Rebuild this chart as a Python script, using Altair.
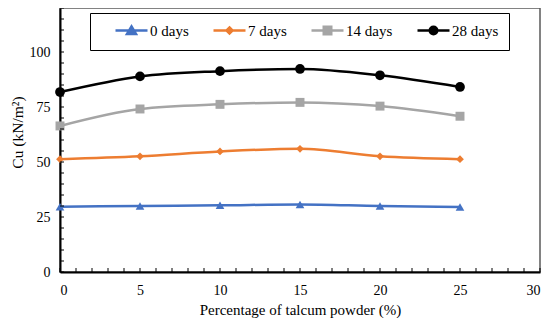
import altair as alt
import pandas as pd

# ---- data ----
pct = [0, 5, 10, 15, 20, 25]
series = ["0 days", "7 days", "14 days", "28 days"]
cu_0 = [29.7, 30.0, 30.3, 30.7, 30.0, 29.6]
cu_7 = [51.3, 52.6, 54.8, 56.0, 52.6, 51.3]
cu_14 = [66.4, 74.1, 76.2, 77.1, 75.4, 70.8]
cu_28 = [81.8, 88.9, 91.3, 92.3, 89.4, 84.1]

colors = ["#4472C4", "#ED7D31", "#A5A5A5", "#000000"]
markers = ["triangle-up", "diamond", "square", "circle"]
marker_sizes = [75, 60, 80, 95]
# legend symbols: a line segment with a (stroke-filled) marker on it
legend_paths = [
    "M-3.2,0H3.2M0,-0.8L0.9,0.7L-0.9,0.7ZM0,-0.2L0.36,0.4L-0.36,0.4ZM-0.1,0.25H0.1",
    "M-3.2,0H3.2M0,-0.6L0.6,0L0,0.6L-0.6,0ZM0,-0.1L0.1,0L0,0.1L-0.1,0Z",
    "M-3.2,0H3.2M-0.75,-0.75H0.75V0.75H-0.75ZM-0.6,-0.25H0.6M-0.6,0.25H0.6",
    "M-3.2,0H3.2M-0.75,0A0.75,0.75 0 1,0 0.75,0A0.75,0.75 0 1,0 -0.75,0ZM-0.3,0A0.3,0.3 0 1,0 0.3,0A0.3,0.3 0 1,0 -0.3,0Z",
]
x_labels = [0, 5, 10, 15, 20, 25, 30]
y_labels = [0, 25, 50, 75, 100]
x_ticks = list(range(0, 31))
y_ticks = list(range(0, 121, 5))

rows = []
for s, vals, c, m, sz in zip(series, [cu_0, cu_7, cu_14, cu_28], colors, markers, marker_sizes):
    for p, v in zip(pct, vals):
        rows.append(dict(pct=p, cu=v, series=s, hex=c, marker=m, msize=sz))
df = pd.DataFrame(rows)
xt = pd.DataFrame({"t": x_ticks})
yt = pd.DataFrame({"t": y_ticks})

W, H = 480, 264
FONT = "Liberation Serif"

xs = alt.Scale(domain=[0, 30], nice=False)
ys = alt.Scale(domain=[0, 120], nice=False)

x_axis = alt.Axis(values=x_labels, title="Percentage of talcum powder (%)", ticks=False, grid=False,
                  labelPadding=11, titlePadding=5, domainColor="black", domainWidth=2)
y_axis = alt.Axis(values=y_labels, title="Cu (kN/m²)", ticks=False, grid=False,
                  labelPadding=10, titlePadding=3, domainColor="black", domainWidth=2,
                  titleFont=FONT, titleFontSize=15.5, titleY=124, titleX=-35,
                  titleAlign="center", titleBaseline="bottom", titleAngle=270)

x_enc = alt.X("pct:Q", scale=xs, axis=x_axis)
y_enc = alt.Y("cu:Q", scale=ys, axis=y_axis)

lines = alt.Chart(df).mark_line(interpolate="monotone", strokeWidth=2.5).encode(
    x=x_enc, y=y_enc,
    color=alt.Color("hex:N", scale=None),
    detail="series:N",
)

points = alt.Chart(df).mark_point(filled=True, opacity=1).encode(
    x=x_enc, y=y_enc,
    color=alt.Color("hex:N", scale=None),
    shape=alt.Shape("marker:N", scale=None),
    size=alt.Size("msize:Q", scale=None),
)

leg = alt.Legend(
    orient="none", legendX=30, legendY=5, direction="horizontal",
    title=" ", titleOrient="left", titlePadding=24, titleFontSize=15, titleFont=FONT,
    labelFont=FONT, labelFontSize=15, labelColor="black", labelOffset=11,
    columnPadding=19, symbolSize=100, symbolStrokeWidth=2.5, padding=10,
    strokeColor="black", gridAlign="none",
)

legend_layer = alt.Chart(df).transform_filter("datum.pct < 0").mark_point(
    filled=False, size=100, strokeWidth=2.5, opacity=1
).encode(
    x=x_enc, y=y_enc,
    color=alt.Color("series:N", scale=alt.Scale(domain=series, range=colors), legend=leg),
    shape=alt.Shape("series:N", scale=alt.Scale(domain=series, range=legend_paths), legend=leg),
)

xtick_layer = alt.Chart(xt).mark_rule(color="black", strokeWidth=1).encode(
    x=alt.X("t:Q", scale=xs, axis=x_axis),
    y=alt.value(H),
    y2=alt.value(H - 4),
)
ytick_layer = alt.Chart(yt).mark_rule(color="black", strokeWidth=1).encode(
    y=alt.Y("t:Q", scale=ys, axis=y_axis),
    x=alt.value(0),
    x2=alt.value(4),
)

chart = alt.layer(lines, points, legend_layer, xtick_layer, ytick_layer).properties(
    width=W, height=H,
    padding={"left": 52, "top": 0, "right": 2, "bottom": 46},
    autosize=alt.AutoSizeParams(type="none"),
    background="white",
).configure_view(
    stroke="#595959", strokeWidth=1.5
).configure_axis(
    labelFont=FONT, labelFontSize=14, labelColor="black",
    titleFont=FONT, titleFontSize=15, titleFontWeight="normal", titleColor="black",
)

chart.save("out.html", embed_options={"renderer": "svg", "actions": False})
